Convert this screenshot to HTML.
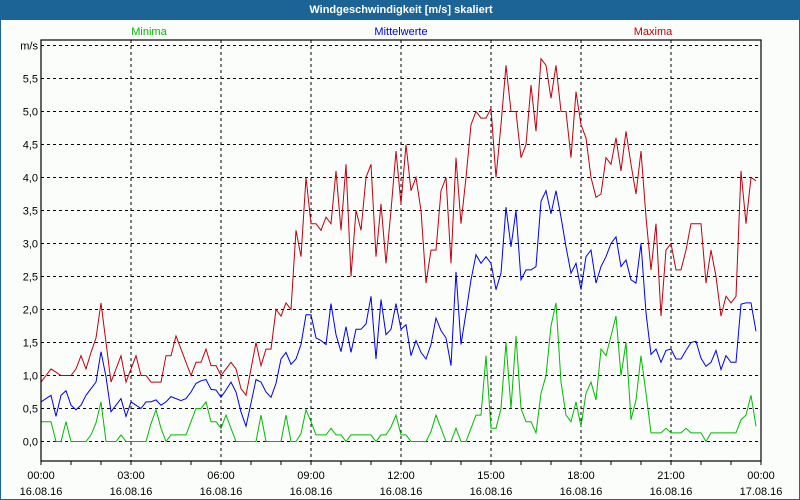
<!DOCTYPE html>
<html><head><meta charset="utf-8"><style>
html,body{margin:0;padding:0;background:#fbfdfb;}
#wrap{position:relative;width:800px;height:500px;overflow:hidden;box-sizing:border-box;border:1px solid #1d6496;border-top:none;background:#fbfdfb;}
#title{position:absolute;left:0;top:0;width:800px;height:20px;background:#1d6496;color:#fff;font:bold 11px "Liberation Sans",sans-serif;text-align:center;line-height:20px;}
svg text{font-family:"Liberation Sans",sans-serif;font-size:11px;}
</style></head><body>
<div id="wrap">
<div id="title">Windgeschwindigkeit [m/s] skaliert</div>
<svg id="chart" width="800" height="500" style="position:absolute;left:0;top:0">
<text x="148" y="35" fill="#00bb00" text-anchor="middle">Minima</text>
<text x="400" y="35" fill="#0000dd" text-anchor="middle">Mittelwerte</text>
<text x="652" y="35" fill="#c00000" text-anchor="middle">Maxima</text>
<g id="grid"></g><g id="series"></g><g id="axes"></g>
</svg>
</div>
<script>
const yTicks=[0,0.5,1,1.5,2,2.5,3,3.5,4,4.5,5,5.5];
const yTickLabels=["0,0","0,5","1,0","1,5","2,0","2,5","3,0","3,5","4,0","4,5","5,0","5,5"];
const xTickHours=[0,3,6,9,12,15,18,21,24];
const xTimeLabels=["00:00","03:00","06:00","09:00","12:00","15:00","18:00","21:00","00:00"];
const xDateLabels=["16.08.16","16.08.16","16.08.16","16.08.16","16.08.16","16.08.16","16.08.16","16.08.16","17.08.16"];
const maxima=[0.9,1.0,1.1,1.05,1.0,1.0,1.0,1.1,1.3,1.1,1.35,1.57,2.1,1.5,0.9,1.1,1.3,0.9,1.1,1.3,1.0,1.0,0.9,0.9,0.9,1.3,1.3,1.6,1.4,1.2,1.0,1.2,1.2,1.4,1.15,1.15,1.0,1.1,1.2,1.1,0.8,0.7,1.1,1.5,1.15,1.4,1.4,2.0,1.9,2.1,2.0,3.2,2.8,4.0,3.3,3.3,3.2,3.4,3.3,4.1,3.2,4.2,2.5,3.5,3.2,4.0,4.2,2.8,3.6,2.7,3.5,4.4,3.6,4.5,3.8,4.0,3.5,2.4,2.9,2.9,3.8,4.0,2.7,4.3,3.3,4.0,4.8,5.0,4.9,4.9,5.05,4.0,4.8,5.7,5.0,5.0,4.3,4.5,5.4,4.7,5.8,5.7,5.2,5.7,5.0,5.0,4.3,5.3,4.8,4.6,4.0,3.7,3.75,4.3,4.2,4.6,4.1,4.7,4.2,3.75,4.4,3.4,2.6,3.3,1.9,2.9,3.0,2.6,2.6,2.9,3.3,3.3,3.3,2.4,2.9,2.5,1.9,2.2,2.1,2.2,4.1,3.3,4.0,3.95];
const mittelwerte=[0.6,0.65,0.7,0.38,0.7,0.77,0.55,0.48,0.55,0.7,0.8,0.9,1.36,0.98,0.45,0.55,0.65,0.38,0.6,0.55,0.5,0.6,0.6,0.63,0.55,0.6,0.68,0.65,0.62,0.65,0.75,0.88,0.92,0.94,0.79,0.78,0.67,0.78,0.9,0.75,0.45,0.23,0.58,0.94,0.9,0.75,0.67,0.88,1.25,1.35,1.17,1.25,1.47,1.92,1.92,1.57,1.53,1.47,2.09,1.62,1.36,1.74,1.35,1.7,1.7,1.78,2.2,1.25,2.15,1.62,1.7,2.09,1.7,1.77,1.3,1.53,1.35,1.25,1.47,1.87,1.68,1.57,1.15,2.57,1.47,1.95,2.45,2.83,2.7,2.8,2.7,2.3,2.55,3.55,2.95,3.5,2.45,2.6,2.6,2.65,3.64,3.8,3.45,3.8,3.4,2.95,2.55,2.7,2.3,2.8,2.9,2.4,2.65,2.8,3.0,3.1,2.65,2.75,2.45,2.4,3.0,1.95,1.32,1.4,1.2,1.38,1.4,1.25,1.25,1.38,1.5,1.52,1.26,1.14,1.2,1.38,1.09,1.3,1.2,1.2,2.08,2.1,2.1,1.67];
const minima=[0.3,0.3,0.3,0,0,0.3,0,0,0,0,0.1,0.28,0.6,0,0,0,0.1,0,0,0,0,0,0.27,0.48,0.2,0,0.1,0.1,0.1,0.1,0.3,0.5,0.5,0.6,0.3,0.3,0.2,0.4,0.2,0,0,0,0,0,0.4,0,0,0,0,0.4,0,0,0.12,0.48,0.3,0.1,0.1,0.1,0.2,0.1,0.1,0,0.1,0.1,0.1,0.1,0.1,0,0.1,0.1,0.22,0.4,0.1,0.1,0,0,0,0,0.15,0.4,0.2,0,0,0.2,0,0,0.2,0.4,0.4,1.3,0.2,0.2,0.5,1.5,0.5,1.6,0.5,0.3,0.3,0.13,0.73,1.0,1.75,2.1,0.9,0.4,0.3,0.6,0.23,0.73,0.9,0.63,1.4,1.3,1.6,1.9,1.0,1.5,0.33,0.63,1.3,0.73,0.13,0.13,0.13,0.2,0.13,0.13,0.13,0.2,0.13,0.13,0.13,0,0.13,0.13,0.13,0.13,0.13,0.13,0.33,0.4,0.7,0.23];
const stepMinutes=10;

const L=40,R=760,T=40,B=461,Y0=441.5,PXU=66;
const X=h=>L+(R-L)*h/24;
const Y=v=>Y0-v*PXU;
const NS="http://www.w3.org/2000/svg";
function mk(tag,attrs,parent){const e=document.createElementNS(NS,tag);for(const k in attrs)e.setAttribute(k,attrs[k]);parent.appendChild(e);return e;}
const grid=document.getElementById('grid'),axes=document.getElementById('axes'),ser=document.getElementById('series');
// horizontal grid incl. m/s line
const hLines=yTicks.concat([6]);
hLines.forEach((v,i)=>{
  const ln=mk('line',{x1:L,x2:R,y1:Y(v),y2:Y(v),stroke:'#000','stroke-dasharray':'3,3','stroke-width':1},grid);
  
  
  const t=mk('text',{x:L-3,y:Y(v)+4,'text-anchor':'end',fill:'#000'},axes);
  t.textContent=i<yTickLabels.length?yTickLabels[i]:'m/s';
  
  
});
xTickHours.forEach((h,i)=>{
  if(h>0&&h<24){
    const ln=mk('line',{x1:X(h),x2:X(h),y1:T,y2:B,stroke:'#000','stroke-dasharray':'3,3'},grid);
    
    
  }
  const t1=mk('text',{x:X(h),y:479,'text-anchor':'middle',fill:'#000'},axes);
  t1.textContent=xTimeLabels[i];
  
  
  const t2=mk('text',{x:X(h),y:495,'text-anchor':'middle',fill:'#000'},axes);
  t2.textContent=xDateLabels[i];
  
  
});
for(let h=0;h<=24;h++){
  const tk=mk('line',{x1:X(h),x2:X(h),y1:B,y2:B+4,stroke:'#000'},axes);
  
  
}
const frame=mk('rect',{x:L,y:T,width:R-L,height:B-T,fill:'none',stroke:'#000','stroke-width':1.2},axes);


function line(data,color,name){
  const pts=data.map((v,i)=>X(i*stepMinutes/60).toFixed(1)+','+Y(v).toFixed(1)).join(' ');
  const p=mk('polyline',{points:pts,fill:'none',stroke:color,'stroke-width':1},ser);
  
  
}
line(minima,'#00bb00','minima-line');
line(mittelwerte,'#0000ee','mittelwerte-line');
line(maxima,'#c00010','maxima-line');
</script>
</body></html>
